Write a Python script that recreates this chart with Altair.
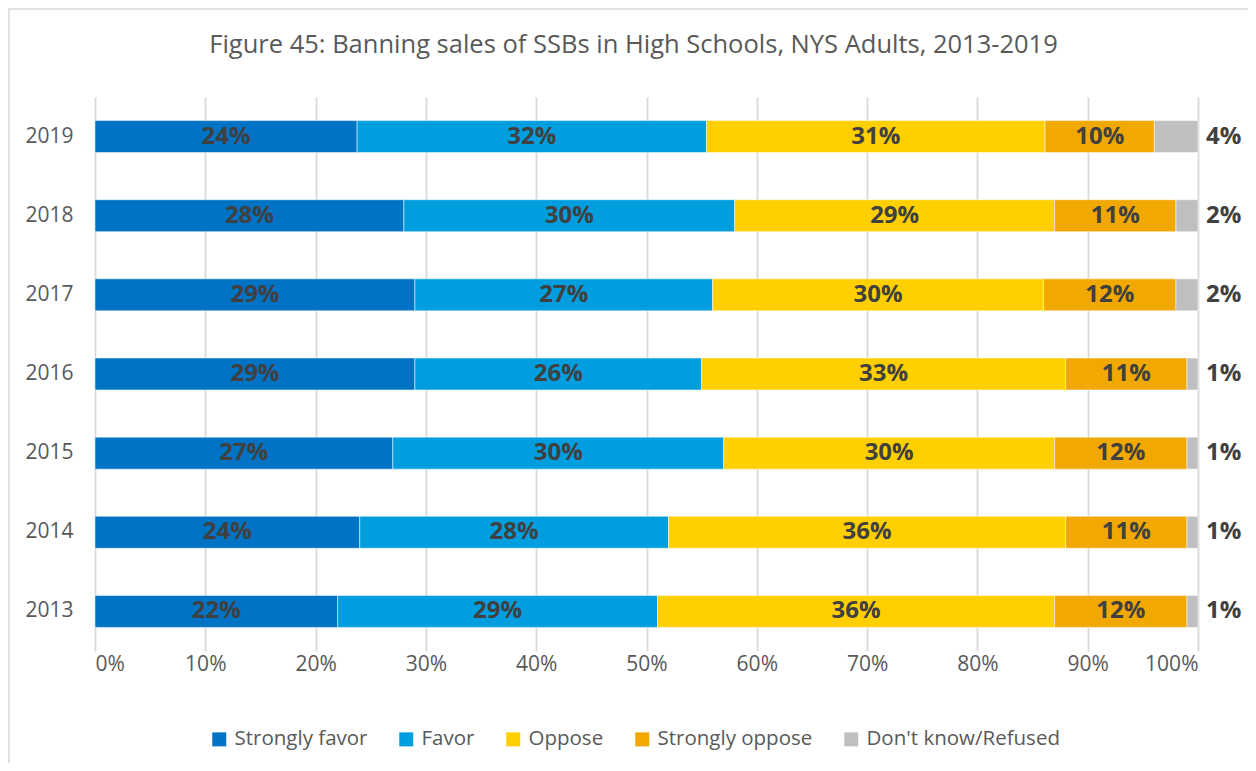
import altair as alt
import pandas as pd

years = ["2019", "2018", "2017", "2016", "2015", "2014", "2013"]
categories = ["Strongly favor", "Favor", "Oppose", "Strongly oppose", "Don't know/Refused"]
strongly_favor = [24, 28, 29, 29, 27, 24, 22]
favor = [32, 30, 27, 26, 30, 28, 29]
oppose = [31, 29, 30, 33, 30, 36, 36]
strongly_oppose = [10, 11, 12, 11, 12, 11, 12]
dont_know = [4, 2, 2, 1, 1, 1, 1]
colors = ["#0073C4", "#009EDF", "#FFCF00", "#F1A800", "#BEBFBE"]

series = [strongly_favor, favor, oppose, strongly_oppose, dont_know]
rows = []
for ci, (cat, vals) in enumerate(zip(categories, series)):
    for y, v in zip(years, vals):
        rows.append({"year": y, "category": cat, "order": ci, "value": v})
df = pd.DataFrame(rows)

FONT = "Open Sans"
W, H = 1103, 554

base = (
    alt.Chart(df)
    .transform_stack(
        stack="value",
        groupby=["year"],
        as_=["v0", "v1"],
        offset="normalize",
        sort=[alt.SortField("order", order="ascending")],
    )
    .transform_calculate(mid="(datum.v0 + datum.v1) / 2", label="datum.value + '%'")
)

yenc = alt.Y(
    "year:N",
    sort=years,
    title=None,
    scale=alt.Scale(paddingInner=0.596, paddingOuter=0.298),
    axis=alt.Axis(
        ticks=False,
        domain=False,
        labelFont=FONT,
        labelFontSize=21,
        labelColor="#595959",
        labelPadding=22,
        grid=False,
    ),
)

bars = base.mark_bar(stroke="white", strokeWidth=1, strokeOpacity=0.5).encode(
    y=yenc,
    x=alt.X(
        "v0:Q",
        title=None,
        scale=alt.Scale(domain=[0, 1], nice=False),
        axis=alt.Axis(
            format=".0%",
            values=[i / 10 for i in range(11)],
            ticks=False,
            domain=False,
            labelFont=FONT,
            labelFontSize=21,
            labelColor="#595959",
            labelPadding=2,
            grid=True,
            gridColor="#D9D9D9",
            gridWidth=1.8,
        ),
    ),
    x2="v1:Q",
    color=alt.Color(
        "category:N",
        scale=alt.Scale(domain=categories, range=colors),
        sort=categories,
        legend=alt.Legend(
            title=None,
            orient="none",
            direction="horizontal",
            legendX=114,
            legendY=632,
            symbolType="square",
            symbolSize=196,
            symbolStrokeWidth=0,
            labelFont=FONT,
            labelFontSize=20.5,
            labelColor="#595959",
            labelOffset=5,
            labelLimit=400,
            columnPadding=28,
        ),
    ),
    order=alt.Order("order:Q"),
)

inner = base.transform_filter("datum.category != \"Don't know/Refused\"").mark_text(
    font=FONT, fontSize=24, fontWeight="bold", color="#404040"
).encode(
    y=alt.Y("year:N", sort=years),
    x=alt.X("mid:Q"),
    text="label:N",
)

outer = base.transform_filter("datum.category == \"Don't know/Refused\"").mark_text(
    font=FONT, fontSize=24, fontWeight="bold", color="#404040", align="left", dx=8
).encode(
    y=alt.Y("year:N", sort=years),
    x=alt.X("v1:Q"),
    text="label:N",
)

border = alt.Chart(pd.DataFrame({"k": [0]})).mark_rect(
    fillOpacity=0, stroke="#D9D9D9", strokeWidth=1.5
).encode(x=alt.value(-86), x2=alt.value(1158), y=alt.value(-88), y2=alt.value(700))

chart = (
    alt.layer(border, bars, inner, outer)
    .properties(
        width=W,
        height=H,
        view=alt.ViewBackground(stroke="transparent", strokeWidth=0, strokeOpacity=0),
        title=alt.TitleParams(
            "Figure 45: Banning sales of SSBs in High Schools,  NYS Adults, 2013-2019",
            font=FONT,
            fontSize=25.5,
            fontWeight="normal",
            color="#595959",
            anchor="middle",
            dx=-13,
            offset=-50,
        ),
        padding={"left": 87, "top": 89, "right": 50, "bottom": 112},
        autosize=alt.AutoSizeParams(type="none"),
    )
    .configure(background="white")
)

chart.save("out.html", embed_options={"renderer": "svg", "actions": False})
